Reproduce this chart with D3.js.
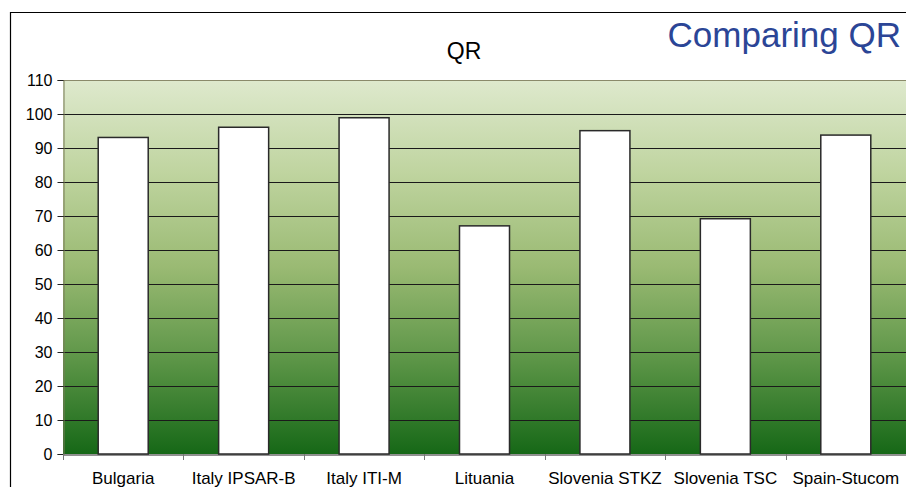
<!DOCTYPE html>
<html>
<head>
<meta charset="utf-8">
<script src="https://cdn.jsdelivr.net/npm/d3@7"></script>
<style>
  html, body { margin: 0; padding: 0; background: #fff; }
  svg { display: block; font-family: "Liberation Sans", Arial, sans-serif; }
</style>
</head>
<body>
<svg id="chart" width="906" height="487"></svg>
<script>
const categories = ["Bulgaria", "Italy IPSAR-B", "Italy ITI-M", "Lituania", "Slovenia STKZ", "Slovenia TSC", "Spain-Stucom"];
const qrValues = [93.1, 96.1, 98.9, 67.1, 95.1, 69.2, 93.8];
const yTicks = [0, 10, 20, 30, 40, 50, 60, 70, 80, 90, 100, 110];

const svg = d3.select("#chart");
const plot = { left: 63, right: 906, top: 80, bottom: 454 };

const x = d3.scaleBand().domain(categories).range([plot.left, plot.right]).paddingInner(0).paddingOuter(0);
const y = d3.scaleLinear().domain([0, 110]).range([plot.bottom, plot.top]);

// outer frame
svg.append("path")
  .attr("d", `M10.5,487 V12.5 H906`)
  .attr("fill", "none").attr("stroke", "#000").attr("stroke-width", 1.2);

// vertical gradient backdrop
const defs = svg.append("defs");
const grad = defs.append("linearGradient").attr("id", "bg").attr("x1", 0).attr("y1", 0).attr("x2", 0).attr("y2", 1);
[[0, "#dee9cd"], [0.25, "#bfd49f"], [0.5, "#9aba73"], [0.75, "#5c9547"], [1, "#166817"]]
  .forEach(([o, c]) => grad.append("stop").attr("offset", o).attr("stop-color", c));

svg.append("rect")
  .attr("x", plot.left).attr("y", plot.top)
  .attr("width", plot.right - plot.left).attr("height", plot.bottom - plot.top)
  .attr("fill", "url(#bg)");

// gridlines
svg.append("g").selectAll("line").data(yTicks.filter(t => t > 0)).join("line")
  .attr("x1", plot.left).attr("x2", plot.right)
  .attr("y1", d => Math.round(y(d)) + 0.5).attr("y2", d => Math.round(y(d)) + 0.5)
  .attr("stroke", d => d === 110 ? "#8a8a6a" : "#1a1a1a").attr("stroke-width", 1);

// bars
const barW = 50;
svg.append("g").selectAll("rect").data(categories).join("rect")
  .attr("x", d => x(d) + (x.bandwidth() - barW) / 2)
  .attr("y", (d, i) => y(qrValues[i]))
  .attr("width", barW)
  .attr("height", (d, i) => y(0) - y(qrValues[i]))
  .attr("fill", "#fff").attr("stroke", "#2a2a2a").attr("stroke-width", 1.5);

// y axis
const yAxis = d3.axisLeft(y).tickValues(yTicks).tickSize(6).tickPadding(5);
const gy = svg.append("g").attr("transform", `translate(${plot.left + 0.5},0)`).call(yAxis);
gy.select(".domain").attr("stroke", "#7a7a5a");
gy.selectAll(".tick line").attr("stroke", "#222");
gy.selectAll(".tick text").attr("font-size", 16).attr("fill", "#000")
  .attr("font-family", "Liberation Sans, Arial, sans-serif");

// x axis
const xAxis = d3.axisBottom(x).tickSize(0).tickPadding(17);
const gx = svg.append("g").attr("transform", `translate(0,${plot.bottom + 0.5})`).call(xAxis);
gx.select(".domain").attr("stroke", "#222");
gx.selectAll(".tick text").attr("font-size", 17).attr("fill", "#000")
  .attr("font-family", "Liberation Sans, Arial, sans-serif");
// category separators below the axis
svg.append("g").selectAll("line").data(categories).join("line")
  .attr("x1", d => Math.round(x(d)) + 0.5).attr("x2", d => Math.round(x(d)) + 0.5)
  .attr("y1", plot.bottom).attr("y2", plot.bottom + 6)
  .attr("stroke", "#777");

// titles
svg.append("text").attr("x", 464).attr("y", 59).attr("text-anchor", "middle")
  .attr("font-size", 23).attr("fill", "#000").text("QR");
svg.append("text").attr("x", 901).attr("y", 47).attr("text-anchor", "end")
  .attr("font-size", 35).attr("fill", "#2b4596").text("Comparing QR");
</script>
</body>
</html>
